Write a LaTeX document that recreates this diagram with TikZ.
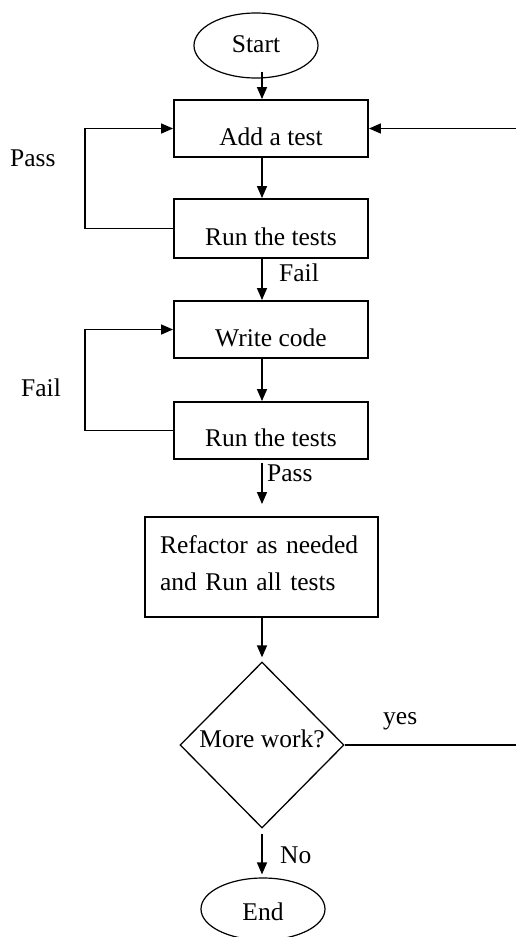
\documentclass[tikz,border=0pt]{standalone}
\usepackage{fontspec}
\setmainfont{Liberation Serif}
\usetikzlibrary{arrows.meta,shapes.geometric,calc}
\begin{document}
\begin{tikzpicture}[x=1pt,y=-1pt,
  every node/.style={font=\fontsize{25.5pt}{37pt}\selectfont, inner sep=0pt},
  box/.style={draw, line width=1.9pt, rectangle, anchor=base, minimum width=194pt},
  oval/.style={draw, ellipse, line width=1.2pt, anchor=base, minimum width=124pt},
  dec/.style={draw, diamond, line width=1.3pt, anchor=base, minimum width=164pt, minimum height=166pt},
  lbl/.style={anchor=base west},
  conn/.style={line width=1.5pt},
  arr/.style={conn, -{Triangle[length=12pt,width=10pt]}}]
\useasboundingbox (0,0) rectangle (516,937);
\coordinate (sp) at (262,0);
\coordinate (rin) at (516,0);
\node[oval, minimum height=65pt, text height=13pt, text depth=0pt] (start) at (256,52) {Start};
\node[box, text height=45pt, text depth=12pt] (b1) at (271,145) {Add a test};
\node[box, text height=46pt, text depth=13pt] (b2) at (271,245) {Run the tests};
\node[box, text height=45pt, text depth=12pt] (b3) at (271,346) {Write code};
\node[box, text height=44pt, text depth=13pt] (b4) at (271,446) {Run the tests};
\node[box, minimum width=233pt, inner xsep=15pt, text width=203pt, align=left, text height=36pt, text depth=64pt] (b5) at (261.5,553) {Refactor as needed\\and Run all tests};
\node[dec, text height=4pt, text depth=0pt] (d) at (262,747) {More work?};
\node[oval, minimum height=62pt, text height=22pt, text depth=0pt] (end) at (263,920) {End};
\node[lbl] (lpass1) at (10,166) {Pass};
\node[lbl] (lfail1) at (279,281) {Fail};
\node[lbl] (lfail2) at (21,396) {Fail};
\node[lbl] (lpass2) at (267,481) {Pass};
\node[lbl] (lyes) at (383,724) {yes};
\node[lbl] (lno) at (280,863) {No};
\draw[arr] ($(start.south -| sp)+(0,-7)$) -- (b1.north -| sp);
\draw[arr] (b1.south -| sp) -- (b2.north -| sp);
\draw[arr] (b2.south -| sp) -- (b3.north -| sp);
\draw[arr] (b3.south -| sp) -- (b4.north -| sp);
\draw[arr] ($(b4.south -| sp)+(0,3)$) -- ($(b5.north -| sp)+(0,-12)$);
\draw[arr, shorten >=4pt] (b5.south -| sp) -- (d.north -| sp);
\draw[arr, shorten <=5pt, shorten >=3pt] (d.south) -- (end.north -| d.south);
\draw[arr] (b2.west) -- ++(-88,0) |- (b1.west);
\draw[arr] (b4.west) -- ++(-88,0) |- (b3.west);
\draw[arr] (b1.east -| rin) -- (b1.east);
\draw[conn] (d.east) -- (d.east -| rin);
\end{tikzpicture}
\end{document}
